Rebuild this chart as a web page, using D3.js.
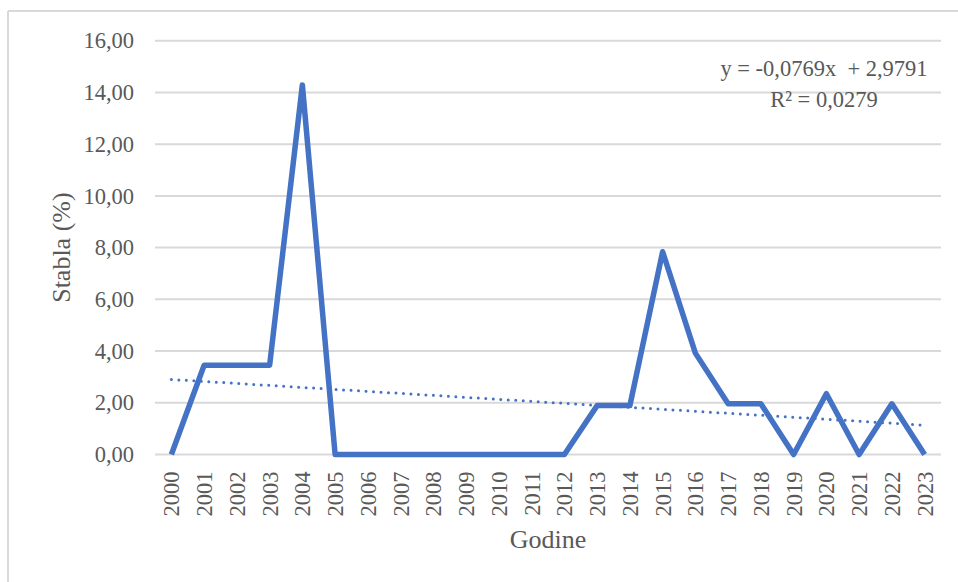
<!DOCTYPE html>
<html>
<head>
<meta charset="utf-8">
<script src="https://cdn.jsdelivr.net/npm/d3@7"></script>
<style>
  html, body { margin: 0; padding: 0; background: #fff; }
  svg { display: block; }
</style>
</head>
<body>
<svg id="chart" width="958" height="582"></svg>
<script>
const years = ["2000","2001","2002","2003","2004","2005","2006","2007","2008","2009","2010","2011","2012","2013","2014","2015","2016","2017","2018","2019","2020","2021","2022","2023"];
const values = [0, 3.45, 3.45, 3.45, 14.29, 0, 0, 0, 0, 0, 0, 0, 0, 1.89, 1.89, 7.84, 3.92, 1.96, 1.96, 0, 2.35, 0, 1.96, 0];
const yTicks = [0, 2, 4, 6, 8, 10, 12, 14, 16];
const trendSlope = -0.0769;
const trendIntercept = 2.9791;
const equationLines = ["y = -0,0769x  + 2,9791", "R² = 0,0279"];
const xTitle = "Godine";
const yTitle = "Stabla (%)";

const svg = d3.select("#chart");
const W = 958, H = 582;
const plot = { left: 155, right: 941, top: 40.7, bottom: 454.5 };
const textColor = "#595959";
const gridColor = "#d9d9d9";
const lineColor = "#4472C4";
const font = "'Liberation Serif', 'Times New Roman', serif";

// outer chart border (top and left visible)
svg.append("line").attr("x1", 8).attr("x2", W).attr("y1", 11).attr("y2", 11)
  .attr("stroke", gridColor).attr("stroke-width", 2);
svg.append("line").attr("x1", 8).attr("x2", 8).attr("y1", 11).attr("y2", H)
  .attr("stroke", gridColor).attr("stroke-width", 2);

const x = d3.scaleBand().domain(years).range([plot.left, plot.right]).padding(0);
const y = d3.scaleLinear().domain([0, 16]).range([plot.bottom, plot.top]);
const cx = d => x(d) + x.bandwidth() / 2;

// gridlines
svg.append("g").selectAll("line").data(yTicks).join("line")
  .attr("x1", plot.left).attr("x2", plot.right)
  .attr("y1", d => y(d)).attr("y2", d => y(d))
  .attr("stroke", gridColor).attr("stroke-width", 2);

// y axis labels
const yAxis = d3.axisLeft(y).tickValues(yTicks).tickSize(0).tickPadding(0)
  .tickFormat(d => d3.format(".2f")(d).replace(".", ","));
const gy = svg.append("g").attr("transform", `translate(${134},0)`).call(yAxis);
gy.select(".domain").remove();
gy.selectAll("text").attr("font-family", font).attr("font-size", 22.5)
  .attr("fill", textColor).attr("dy", "0.32em").attr("x", 0);

// x axis labels
const xAxis = d3.axisBottom(x).tickSize(0).tickPadding(0);
const gx = svg.append("g").attr("transform", `translate(0,${plot.bottom})`).call(xAxis);
gx.select(".domain").remove();
gx.selectAll("text")
  .attr("font-family", font).attr("font-size", 22.5).attr("fill", textColor)
  .attr("text-anchor", "end")
  .attr("transform", "rotate(-90)")
  .attr("x", -17).attr("y", 0).attr("dy", "0.35em");

// data line
const line = d3.line().x((d, i) => cx(years[i])).y(d => y(d));
svg.append("path").datum(values)
  .attr("d", line).attr("fill", "none")
  .attr("stroke", lineColor).attr("stroke-width", 5.5)
  .attr("stroke-linejoin", "round");

// trend line
const trend = [
  { yr: years[0], v: trendIntercept + trendSlope * 1 },
  { yr: years[years.length - 1], v: trendIntercept + trendSlope * years.length }
];
svg.append("path").datum(trend)
  .attr("d", d3.line().x(d => cx(d.yr)).y(d => y(d.v)))
  .attr("fill", "none").attr("stroke", lineColor).attr("stroke-width", 3)
  .attr("stroke-linecap", "round").attr("stroke-dasharray", "0 7.5");

// equation
svg.append("g").selectAll("text").data(equationLines).join("text")
  .attr("x", 824).attr("y", (d, i) => 76 + i * 30.5)
  .attr("text-anchor", "middle")
  .attr("font-family", font).attr("font-size", 22.5).attr("fill", textColor)
  .style("white-space", "pre")
  .text(d => d);

// axis titles
svg.append("text").attr("x", 548).attr("y", 548)
  .attr("text-anchor", "middle").attr("font-family", font).attr("font-size", 26)
  .attr("fill", textColor).text(xTitle);
svg.append("text")
  .attr("transform", `translate(70,${(plot.top + plot.bottom) / 2}) rotate(-90)`)
  .attr("text-anchor", "middle").attr("font-family", font).attr("font-size", 26)
  .attr("fill", textColor).text(yTitle);
</script>
</body>
</html>
